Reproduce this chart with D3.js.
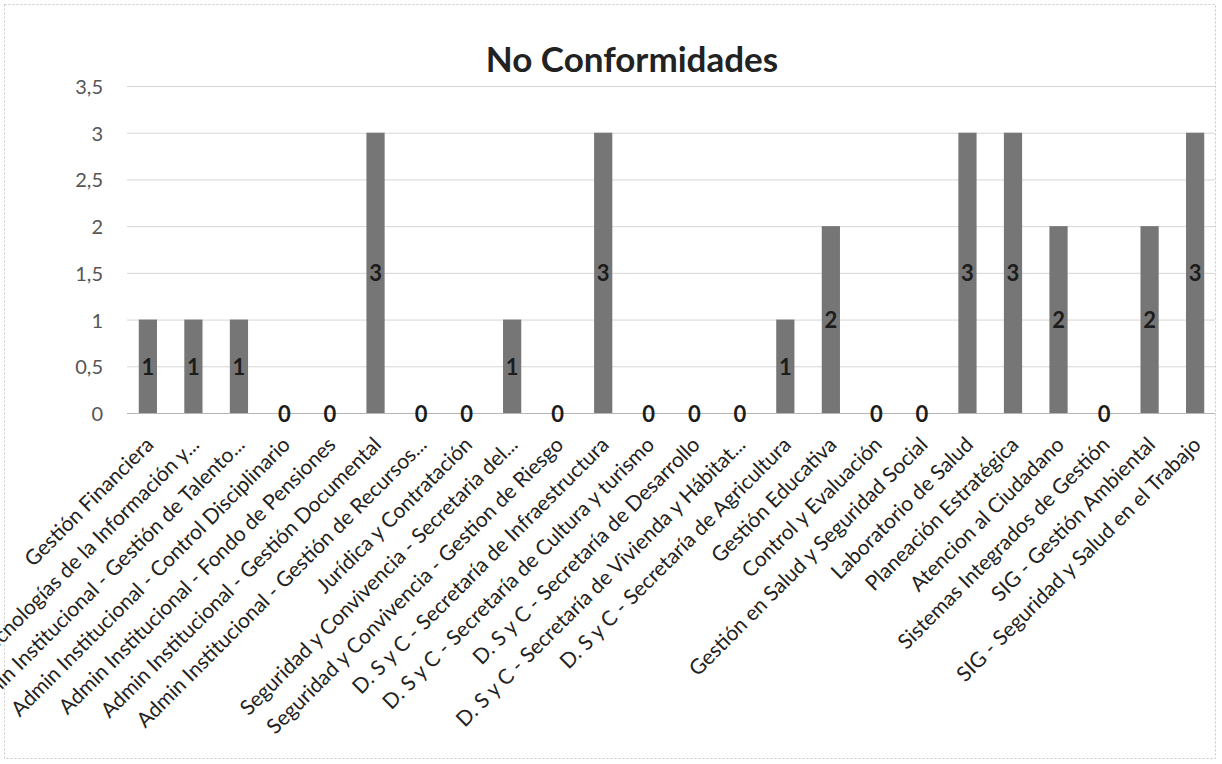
<!DOCTYPE html>
<html><head><meta charset="utf-8">
<script src="https://cdn.jsdelivr.net/npm/d3@7"></script>
<style>
html,body{margin:0;padding:0;background:#fff;}
svg{display:block;}
</style></head>
<body>
<svg id="chart" width="1222" height="764"></svg>
<script>
const title = "No Conformidades";
const categories = [
  "Gestión Financiera",
  "Tecnologías de la Información y...",
  "Admin Institucional - Gestión de Talento...",
  "Admin Institucional - Control Disciplinario",
  "Admin Institucional - Fondo de Pensiones",
  "Admin Institucional - Gestión Documental",
  "Admin Institucional - Gestión de Recursos...",
  "Jurídica y Contratación",
  "Seguridad y Convivencia - Secretaria del...",
  "Seguridad y Convivencia - Gestion de Riesgo",
  "D. S y C - Secretaría de Infraestructura",
  "D. S y C - Secretaría de Cultura y turismo",
  "D. S y C - Secretaría de Desarrollo",
  "D. S y C - Secretaría de Vivienda y Hábitat...",
  "D. S y C - Secretaría de Agricultura",
  "Gestión Educativa",
  "Control y Evaluación",
  "Gestión en Salud y Seguridad Social",
  "Laboratorio de Salud",
  "Planeación Estratégica",
  "Atencion al Ciudadano",
  "Sistemas Integrados de Gestión",
  "SIG - Gestión Ambiental",
  "SIG - Seguridad y Salud en el Trabajo"
];
const values = [1,1,1,0,0,3,0,0,1,0,3,0,0,0,1,2,0,0,3,3,2,0,2,3];
const yTicks = [0,0.5,1,1.5,2,2.5,3,3.5];
const yTickLabels = ["0","0,5","1","1,5","2","2,5","3","3,5"];

const svg = d3.select("#chart");
const font = "Lato, 'Open Sans', sans-serif";

// frame
svg.append("rect").attr("x",4.5).attr("y",4.5).attr("width",1211).attr("height",754)
  .attr("fill","none").attr("stroke","#c8c8c8").attr("stroke-dasharray","2,2");

const x = d3.scaleBand().domain(categories).range([116,1227]).paddingInner(0.6).paddingOuter(0.5);
const y = d3.scaleLinear().domain([0,3.5]).range([413,86]);
const gridX0 = 127, gridX1 = 1215;

// gridlines
svg.append("g").selectAll("line").data(yTicks).join("line")
  .attr("x1",gridX0).attr("x2",gridX1)
  .attr("y1",d=>y(d)+0.5).attr("y2",d=>y(d)+0.5)
  .attr("stroke",d=>d===0?"#b5b5b5":"#d6d6d6").attr("stroke-width",1);

// y tick labels
svg.append("g").selectAll("text").data(yTicks).join("text")
  .attr("x",103).attr("y",d=>y(d))
  .attr("text-anchor","end").attr("dominant-baseline","central")
  .attr("font-family",font).attr("font-size",20).attr("fill","#555")
  .text((d,i)=>yTickLabels[i]);

// bars
svg.append("g").selectAll("rect").data(categories).join("rect")
  .attr("x",d=>x(d)).attr("width",x.bandwidth())
  .attr("y",(d,i)=>y(values[i])).attr("height",(d,i)=>y(0)-y(values[i]))
  .attr("fill","#767676");

// data labels
svg.append("g").selectAll("text").data(categories).join("text")
  .attr("x",d=>x(d)+x.bandwidth()/2).attr("y",(d,i)=>y(values[i]/2))
  .attr("text-anchor","middle").attr("dominant-baseline","central")
  .attr("font-family",font).attr("font-weight","bold").attr("font-size",22).attr("fill","#1c1c1c")
  .text((d,i)=>values[i]);

// category labels
svg.append("g").selectAll("text").data(categories).join("text")
  .attr("transform",d=>`translate(${x(d)+x.bandwidth()/2+7},446) rotate(-45)`)
  .attr("text-anchor","end")
  .attr("font-family",font).attr("font-size",21).attr("fill","#222")
  .text(d=>d);

// title
svg.append("text").attr("x",632).attr("y",72).attr("text-anchor","middle")
  .attr("font-family",font).attr("font-weight","bold").attr("font-size",35).attr("fill","#222")
  .text(title);
</script>
</body></html>
